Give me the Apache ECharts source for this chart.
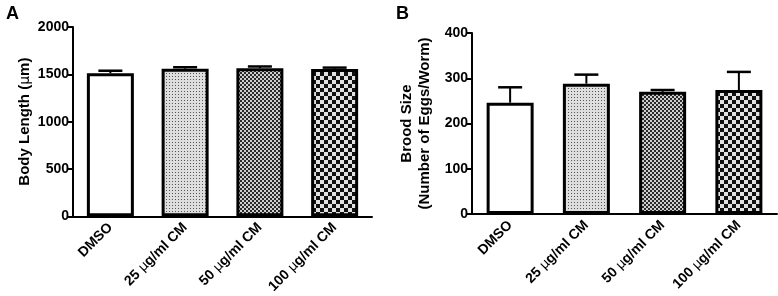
<!DOCTYPE html>
<html>
<head>
<meta charset="utf-8">
<script src="https://cdn.jsdelivr.net/npm/echarts@6/dist/echarts.min.js"></script>
<style>
  html, body { margin: 0; padding: 0; background: #fff; }
  #main { width: 778px; height: 296px; }
</style>
</head>
<body>
<div id="main"></div>
<script>
// groups on the x axis
var categories = ["DMSO", "25 μg/ml CM", "50 μg/ml CM", "100 μg/ml CM"];
// panel A: body length (um), mean and upper error
var lengthMean = [1512, 1560, 1565, 1556];
var lengthErr = [26, 15, 18, 15];
// panel B: brood size, mean and upper error
var broodMean = [246, 288, 270, 274];
var broodErr = [34, 20, 4, 40];
// tick settings
var lengthTicks = { min: 0, max: 2000, interval: 500 };
var broodTicks = { min: 0, max: 400, interval: 100 };

var FONT = "Liberation Sans, Arial, sans-serif";

// little canvas patterns for the bar fills
function makePattern(size, draw) {
  var c = document.createElement("canvas");
  c.width = size;
  c.height = size;
  var ctx = c.getContext("2d");
  draw(ctx);
  return { image: c, repeat: "repeat" };
}
function checker(cell, dark, light) {
  return makePattern(cell * 2, function (ctx) {
    ctx.fillStyle = light;
    ctx.fillRect(0, 0, cell * 2, cell * 2);
    ctx.fillStyle = dark;
    ctx.fillRect(0, 0, cell, cell);
    ctx.fillRect(cell, cell, cell, cell);
  });
}
var fills = [
  "#ffffff",
  makePattern(3, function (ctx) {
    ctx.fillStyle = "#dedede";
    ctx.fillRect(0, 0, 3, 3);
    ctx.fillStyle = "#555";
    ctx.fillRect(1, 1, 1, 1);
  }),
  checker(2, "#2a2a2a", "#cfcfcf"),
  checker(4, "#111111", "#e2e2e2"),
];

function barData(vals) {
  return vals.map(function (v, i) {
    return { value: v, itemStyle: { color: fills[i] } };
  });
}
function errData(means, errs) {
  return means.map(function (m, i) {
    return [i, m, errs[i]];
  });
}

// upward error bar with a cap
function renderErr(params, api) {
  var x = api.value(0);
  var m = api.value(1);
  var e = api.value(2);
  var p0 = api.coord([x, m]);
  var p1 = api.coord([x, m + e]);
  return {
    type: "group",
    children: [
      {
        type: "line",
        shape: { x1: p0[0], y1: p0[1], x2: p1[0], y2: p1[1] },
        style: { stroke: "#000", lineWidth: 2 },
      },
      {
        type: "line",
        shape: { x1: p1[0] - 12, y1: p1[1], x2: p1[0] + 12, y2: p1[1] },
        style: { stroke: "#000", lineWidth: 2.5 },
      },
    ],
  };
}

var richMu = {
  mu: { fontFamily: "DejaVu Sans, sans-serif", fontWeight: "normal", fontSize: 13, color: "#000" },
};

function xAxisFor(gridIndex) {
  return {
    type: "category",
    gridIndex: gridIndex,
    data: categories,
    axisLine: { lineStyle: { color: "#000", width: 2 } },
    axisTick: { alignWithLabel: true, length: 5, lineStyle: { color: "#000", width: 2 } },
    axisLabel: {
      rotate: 45,
      margin: 9,
      color: "#000",
      fontFamily: FONT,
      fontWeight: "bold",
      fontSize: 14,
      formatter: function (v) {
        return v.replace("μ", "{mu|μ}");
      },
      rich: richMu,
    },
  };
}
function yAxisFor(gridIndex, ticks, name) {
  return {
    type: "value",
    gridIndex: gridIndex,
    min: ticks.min,
    max: ticks.max,
    interval: ticks.interval,
    name: name,
    nameLocation: "middle",
    nameRotate: 90,
    nameGap: 38,
    nameTextStyle: {
      color: "#000",
      fontFamily: FONT,
      fontWeight: "bold",
      fontSize: 15,
      lineHeight: 18,
      rich: { mu: { fontFamily: "DejaVu Sans, sans-serif", fontWeight: "normal", fontSize: 14 } },
    },
    axisLine: { show: true, lineStyle: { color: "#000", width: 2 } },
    axisTick: { show: true, length: 6, lineStyle: { color: "#000", width: 2 } },
    splitLine: { show: false },
    axisLabel: {
      margin: 4,
      color: "#000",
      fontFamily: FONT,
      fontWeight: "bold",
      fontSize: 14,
      formatter: function (v) {
        return String(v);
      },
    },
  };
}

var chart = echarts.init(document.getElementById("main"));
chart.setOption({
  animation: false,
  backgroundColor: "#fff",
  title: [
    { text: "A", left: 1, top: 0, textStyle: { fontFamily: FONT, fontWeight: "bold", fontSize: 18, color: "#000" } },
    { text: "B", left: 391, top: 0, textStyle: { fontFamily: FONT, fontWeight: "bold", fontSize: 18, color: "#000" } },
  ],
  grid: [
    { left: 73, top: 27, width: 299, height: 190 },
    { left: 472, top: 33, width: 305, height: 181 },
  ],
  xAxis: [xAxisFor(0), xAxisFor(1)],
  yAxis: [
    yAxisFor(0, lengthTicks, "Body Length ({mu|μ}m)"),
    yAxisFor(1, broodTicks, "Brood Size\n(Number of Eggs/Worm)"),
  ],
  series: [
    {
      type: "bar",
      xAxisIndex: 0,
      yAxisIndex: 0,
      barWidth: 47,
      itemStyle: { borderColor: "#000", borderWidth: 3 },
      data: barData(lengthMean),
    },
    {
      type: "custom",
      xAxisIndex: 0,
      yAxisIndex: 0,
      renderItem: renderErr,
      encode: { x: 0, y: 1 },
      z: 3,
      data: errData(lengthMean, lengthErr),
    },
    {
      type: "bar",
      xAxisIndex: 1,
      yAxisIndex: 1,
      barWidth: 47,
      itemStyle: { borderColor: "#000", borderWidth: 3 },
      data: barData(broodMean),
    },
    {
      type: "custom",
      xAxisIndex: 1,
      yAxisIndex: 1,
      renderItem: renderErr,
      encode: { x: 0, y: 1 },
      z: 3,
      data: errData(broodMean, broodErr),
    },
  ],
});
</script>
</body>
</html>
